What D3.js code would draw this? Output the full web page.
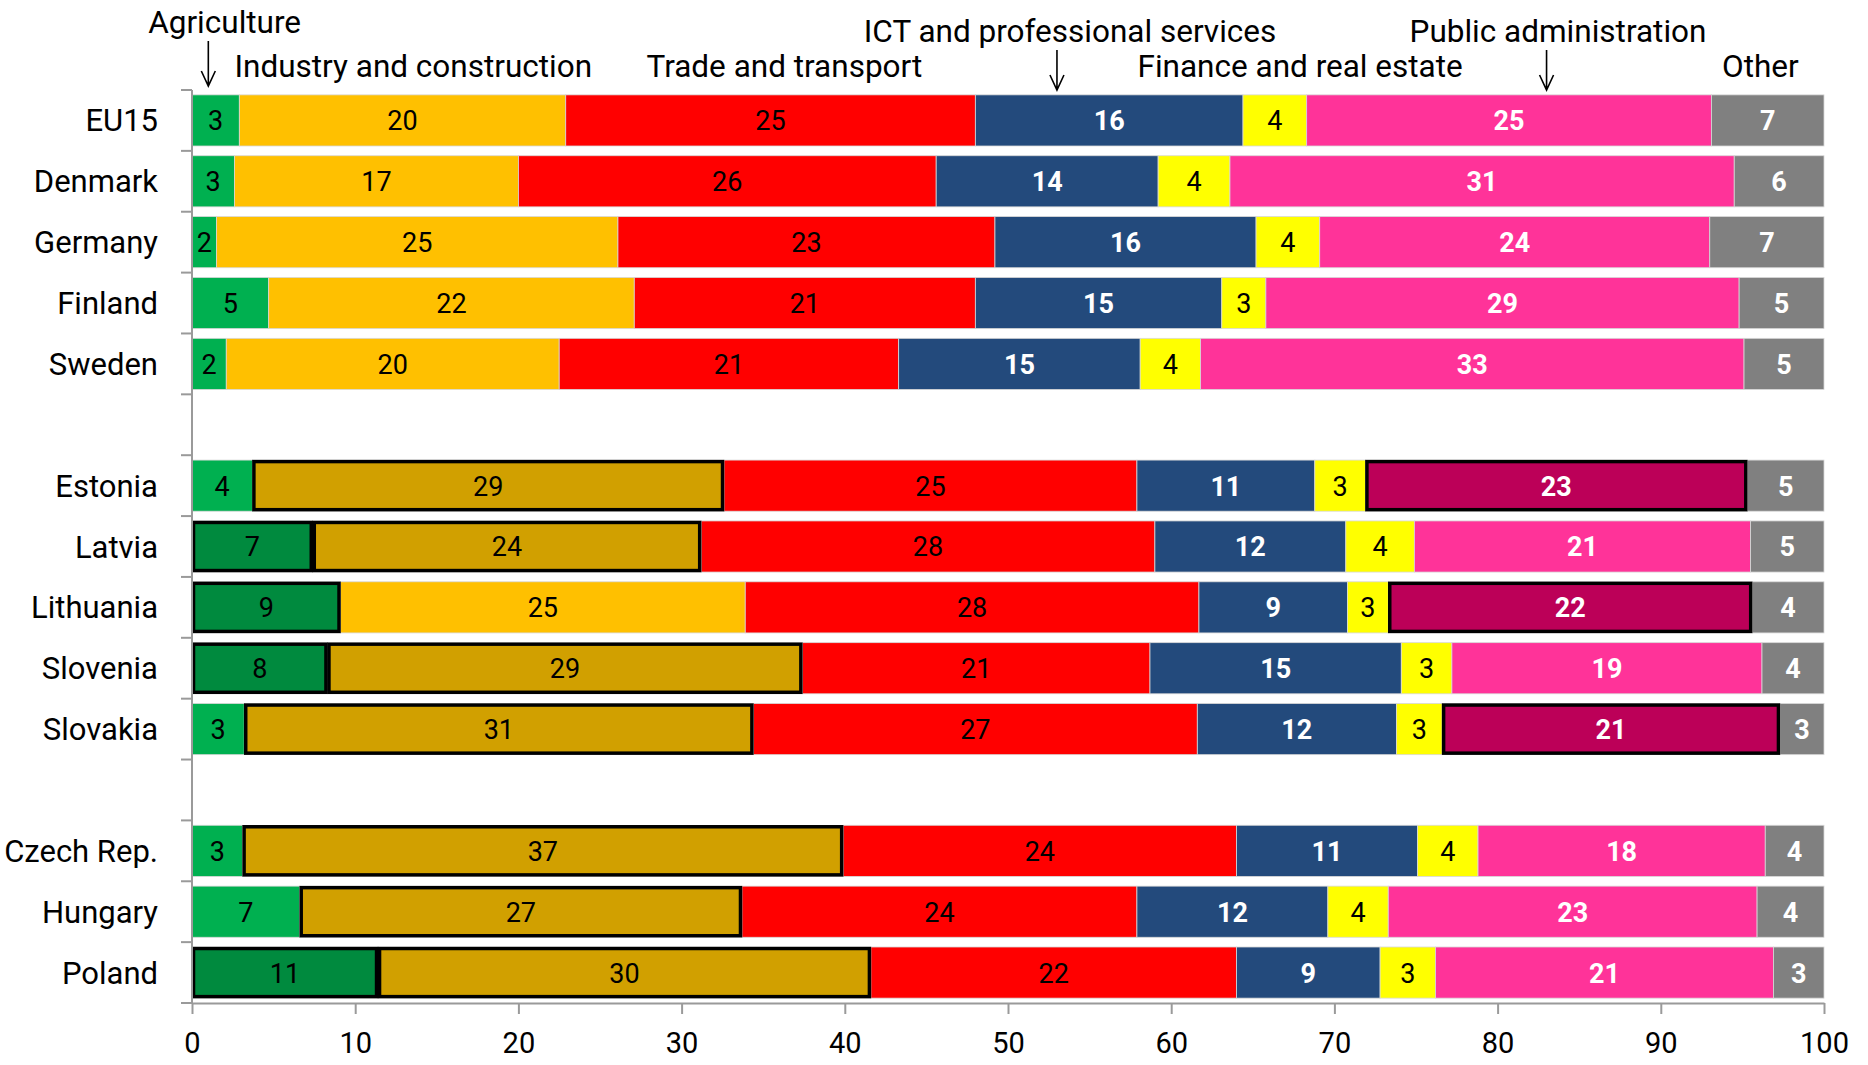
<!DOCTYPE html>
<html>
<head>
<meta charset="utf-8">
<script src="https://cdn.jsdelivr.net/npm/d3@7"></script>
<style>
  body { margin: 0; background: #fff; }
  svg text { font-family: Roboto, "Noto Sans", sans-serif; }
</style>
</head>
<body>
<div id="chart"></div>
<script>
/*
------------------------------
DATA: employment share by sector, %
------------------------------
*/
const countries = ["EU15", "Denmark", "Germany", "Finland", "Sweden",
    "Estonia", "Latvia", "Lithuania", "Slovenia", "Slovakia",
    "Czech Rep.", "Hungary", "Poland"];

// where the empty rows go
const rowOrder = ["EU15", "Denmark", "Germany", "Finland", "Sweden", "gap1",
    "Estonia", "Latvia", "Lithuania", "Slovenia", "Slovakia", "gap2",
    "Czech Rep.", "Hungary", "Poland"];

const sectors = ["agriculture", "industry", "trade", "ict", "finance", "publicAdmin", "other"];

const agriculture = [2.9, 2.6, 1.5, 4.7, 2.1, 3.7, 7.4, 9.1, 8.3, 3.2, 3.1, 6.6, 11.4];
const industry    = [20.0, 17.4, 24.6, 22.4, 20.4, 28.9, 23.8, 24.8, 29.1, 31.2, 36.8, 27.1, 30.2];
const trade       = [25.1, 25.6, 23.1, 20.9, 20.8, 25.3, 27.8, 27.8, 21.3, 27.2, 24.1, 24.2, 22.4];
const ict         = [16.4, 13.6, 16.0, 15.1, 14.8, 10.9, 11.7, 9.1, 15.4, 12.2, 11.1, 11.7, 8.8];
const finance     = [3.9, 4.4, 3.9, 2.7, 3.7, 3.1, 4.2, 2.5, 3.1, 2.8, 3.7, 3.7, 3.4];
const publicAdmin = [24.8, 30.9, 23.9, 29.0, 33.3, 23.4, 20.6, 22.3, 19.0, 20.7, 17.6, 22.6, 20.7];
const other       = [6.9, 5.5, 7.0, 5.2, 4.9, 4.7, 4.5, 4.4, 3.8, 2.7, 3.6, 4.1, 3.1];

// segments drawn darker with a black outline
const highlighted = [
    ["Estonia", "industry"], ["Estonia", "publicAdmin"],
    ["Latvia", "agriculture"], ["Latvia", "industry"],
    ["Lithuania", "agriculture"], ["Lithuania", "publicAdmin"],
    ["Slovenia", "agriculture"], ["Slovenia", "industry"],
    ["Slovakia", "industry"], ["Slovakia", "publicAdmin"],
    ["Czech Rep.", "industry"],
    ["Hungary", "industry"],
    ["Poland", "agriculture"], ["Poland", "industry"]
];

const xTicks = [0, 10, 20, 30, 40, 50, 60, 70, 80, 90, 100];

/*
------------------------------
LOOK: colours and header labels
------------------------------
*/
const colors = {
    agriculture: "#00B050", industry: "#FFC000", trade: "#FF0000", ict: "#234A7C",
    finance: "#FFFF00", publicAdmin: "#FF3399", other: "#808080"
};
const darkColors = { agriculture: "#008A3E", industry: "#D1A000", publicAdmin: "#BC0058" };
const whiteLabel = { ict: true, publicAdmin: true, other: true };

// header labels: text, x in data units, anchor, baseline y
const headers = [
    { text: "Agriculture", x: 2.0, anchor: "middle", y: 33 },
    { text: "Industry and construction", x: 2.6, anchor: "start", y: 77 },
    { text: "Trade and transport", x: 36.3, anchor: "middle", y: 77 },
    { text: "ICT and professional services", x: 53.8, anchor: "middle", y: 42 },
    { text: "Finance and real estate", x: 67.9, anchor: "middle", y: 77 },
    { text: "Public administration", x: 83.7, anchor: "middle", y: 42 },
    { text: "Other", x: 96.1, anchor: "middle", y: 77 }
];
const arrows = [
    { x: 1, y1: 41, y2: 86 },
    { x: 53, y1: 50, y2: 90 },
    { x: 83, y1: 50, y2: 90 }
];

let margin = { top: 90, right: 44, bottom: 62, left: 192 };
let width = 1868 - margin.left - margin.right;
let height = 1065 - margin.top - margin.bottom;

const series = { agriculture, industry, trade, ict, finance, publicAdmin, other };

/*
------------------------------
METHOD: build the rows and draw
------------------------------
*/
const rows = countries.map((c, i) => {
    let x0 = 0;
    const segs = sectors.map(s => {
        const v = series[s][i];
        const seg = {
            country: c, sector: s, value: v, x0: x0, x1: x0 + v,
            hi: highlighted.some(h => h[0] === c && h[1] === s)
        };
        x0 += v;
        return seg;
    });
    return { country: c, segs: segs };
});

const svgRoot = d3.select("#chart")
    .append("svg")
    .attr("width", 1868)
    .attr("height", 1065);

const svg = svgRoot.append("g")
    .attr("transform", "translate(" + margin.left + "," + margin.top + ")");

const x = d3.scaleLinear().domain([0, 100]).range([0, width]);
const y = d3.scaleBand().domain(rowOrder).range([0, height]).paddingInner(0.16).paddingOuter(0.08);

// bars
const rowG = svg.selectAll(".row")
    .data(rows)
    .join("g")
    .attr("class", "row")
    .attr("transform", d => "translate(0," + y(d.country) + ")");

rowG.selectAll("rect.seg")
    .data(d => d.segs.filter(s => !s.hi))
    .join("rect")
    .attr("class", "seg")
    .attr("x", d => x(d.x0))
    .attr("width", d => x(d.x1) - x(d.x0))
    .attr("height", y.bandwidth())
    .style("fill", d => colors[d.sector])
    .style("stroke", "#d8d8d8")
    .style("stroke-width", 0.8);

// outlined ones on top so the black lines are not covered
rowG.selectAll("rect.hi")
    .data(d => d.segs.filter(s => s.hi))
    .join("rect")
    .attr("class", "hi")
    .attr("x", d => x(d.x0) + 1.5)
    .attr("y", 1.5)
    .attr("width", d => x(d.x1) - x(d.x0) - 3)
    .attr("height", y.bandwidth() - 3)
    .style("fill", d => darkColors[d.sector])
    .style("stroke", "#000")
    .style("stroke-width", 3.5);

rowG.selectAll("text")
    .data(d => d.segs)
    .join("text")
    .attr("x", d => x((d.x0 + d.x1) / 2))
    .attr("y", y.bandwidth() / 2 + 10)
    .attr("text-anchor", "middle")
    .attr("font-size", "27px")
    .attr("font-weight", d => whiteLabel[d.sector] ? "bold" : "normal")
    .attr("fill", d => whiteLabel[d.sector] ? "#fff" : "#000")
    .text(d => Math.round(d.value));

// y axis: line, ticks at band edges, country names
const edges = rowOrder.map(r => y(r) - y.step() * y.paddingInner() / 2)
    .concat([height]);
svg.append("line")
    .attr("x1", 0).attr("x2", 0).attr("y1", 0).attr("y2", height)
    .style("stroke", "#9a9a9a").style("stroke-width", 2);
svg.selectAll(".ytick")
    .data(edges)
    .join("line")
    .attr("class", "ytick")
    .attr("x1", -11).attr("x2", 0)
    .attr("y1", d => d).attr("y2", d => d)
    .style("stroke", "#9a9a9a").style("stroke-width", 2);
svg.selectAll(".ylabel")
    .data(countries)
    .join("text")
    .attr("class", "ylabel")
    .attr("x", -34)
    .attr("y", d => y(d) + y.bandwidth() / 2 + 11)
    .attr("text-anchor", "end")
    .attr("font-size", "31px")
    .attr("fill", "#000")
    .text(d => d);

// x axis
const xAxis = svg.append("g")
    .attr("transform", "translate(0," + height + ")")
    .call(d3.axisBottom(x).tickValues(xTicks).tickSize(11).tickPadding(18).tickSizeOuter(0));
xAxis.select(".domain").style("stroke", "#9a9a9a").style("stroke-width", 2);
xAxis.selectAll(".tick line").style("stroke", "#9a9a9a").style("stroke-width", 2);
xAxis.selectAll(".tick text")
    .attr("font-size", "29px")
    .attr("font-family", "Roboto, 'Noto Sans', sans-serif")
    .attr("fill", "#000");

// header labels and arrows (drawn in page coordinates)
svgRoot.selectAll(".head")
    .data(headers)
    .join("text")
    .attr("class", "head")
    .attr("x", d => margin.left + x(d.x))
    .attr("y", d => d.y)
    .attr("text-anchor", d => d.anchor)
    .attr("font-size", "31.5px")
    .attr("fill", "#000")
    .text(d => d.text);

svgRoot.selectAll(".arrow")
    .data(arrows)
    .join("path")
    .attr("class", "arrow")
    .attr("d", d => {
        const ax = margin.left + x(d.x);
        return "M" + ax + "," + d.y1 + "V" + d.y2 +
            "M" + (ax - 7) + "," + (d.y2 - 15) + "L" + ax + "," + d.y2 + "L" + (ax + 7) + "," + (d.y2 - 15);
    })
    .style("fill", "none")
    .style("stroke", "#000")
    .style("stroke-width", 1.6);
</script>
</body>
</html>
